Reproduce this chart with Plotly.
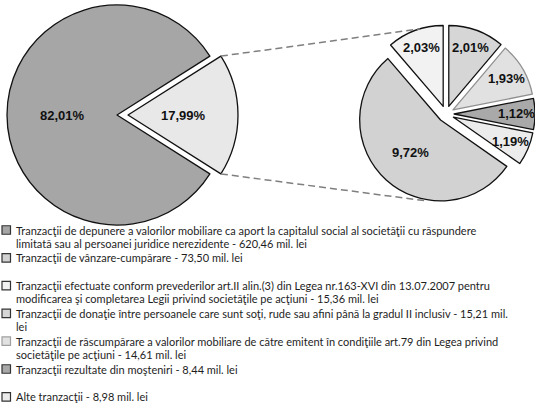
import math
import textwrap
import plotly.graph_objects as go

# ---------------- data ----------------
main_labels = ["Depunere ca aport la capitalul social", "Celelalte tranzacţii (grupate)"]
main_pct = [82.01, 17.99]

sub_labels = ["Vânzare-cumpărare", "Art.II alin.(3) Legea nr.163-XVI", "Donaţie",
              "Răscumpărare art.79", "Moşteniri", "Alte tranzacţii"]
sub_pct = [9.72, 2.03, 2.01, 1.93, 1.12, 1.19]

legend_names = [
    "Tranzacţii de depunere a valorilor mobiliare ca aport la capitalul social al societăţii cu răspundere "
    "limitată sau al persoanei juridice nerezidente",
    "Tranzacţii de vânzare-cumpărare",
    "Tranzacţii efectuate conform prevederilor art.II alin.(3) din Legea nr.163-XVI din 13.07.2007 pentru "
    "modificarea şi completarea Legii privind societăţile pe acţiuni",
    "Tranzacţii de donaţie între persoanele care sunt soţi, rude sau afini până la gradul II inclusiv",
    "Tranzacţii de răscumpărare a valorilor mobiliare de către emitent în condiţiile art.79 din Legea privind "
    "societăţile pe acţiuni",
    "Tranzacţii rezultate din moşteniri",
    "Alte tranzacţii",
]
legend_amounts = [620.46, 73.50, 15.36, 15.21, 14.61, 8.44, 8.98]

# ---------------- style ----------------
main_colors = ["#a6a6a6", "#e8e8e8"]
sub_colors = ["#d2d2d2", "#f2f2f2", "#d6d6d6", "#e1e1e1", "#a9a9a9", "#ececec"]
sub_line_colors = ["#111111", "#111111", "#111111", "#909090", "#111111", "#111111"]
legend_colors = [main_colors[0]] + sub_colors
legend_line_colors = ["#333333"] * 4 + ["#a0a0a0"] + ["#333333"] * 2

W, H = 535, 414
MAIN_C = (117.0, 115.0)
MAIN_R = 110.0
MAIN_PULL = 0.10
SUB_C = (446.0, 114.0)
SUB_HALF = 89.0
SUB_PULL = 0.10
SUB_R = SUB_HALF / (1 + SUB_PULL)
TRANSP = "rgba(0,0,0,0)"
LBL_FONT = dict(family="Liberation Sans, Arial", size=13, color="#111111", weight="bold")
LEG_FONT = dict(family="Lato", size=11, color="#1e1e1e")


def dom_x(cx, half):
    return [max(0.0, (cx - half) / W), min(1.0, (cx + half) / W)]


def dom_y(cy, half):
    return [max(0.0, 1 - (cy + half) / H), min(1.0, 1 - (cy - half) / H)]


def pt(c, r, ang_deg):
    a = math.radians(ang_deg)
    return (c[0] + r * math.sin(a), c[1] - r * math.cos(a))


def fmt(v):
    return f"{v:.2f}".replace(".", ",")


def mid_angles(vals, rot):
    tot = sum(vals)
    out, cum = [], 0.0
    for v in vals:
        out.append(rot + 360 * (cum + v / 2) / tot)
        cum += v
    return out


# main pie: small (grouped) slice centred at 3 o'clock
main_tot = sum(main_pct)
main_rot = 90 + 180 * main_pct[1] / main_tot
grp_span = 360 * main_pct[1] / main_tot
main_mids = mid_angles(main_pct, main_rot)
off = pt((0, 0), MAIN_PULL * MAIN_R, main_mids[1])
MAIN_C2 = (MAIN_C[0] + off[0], MAIN_C[1] + off[1])

# secondary pie: boundary between 2nd and 3rd slices at 12 o'clock
sub_tot = sum(sub_pct)
sub_rot = 360 - 360 * (sub_pct[0] + sub_pct[1]) / sub_tot
sub_mids = mid_angles(sub_pct, sub_rot)

fig = go.Figure()

common = dict(sort=False, direction="clockwise", textinfo="none",
              showlegend=False, hoverinfo="label+value")

# big slice (stays in place)
fig.add_trace(go.Pie(
    values=main_pct, labels=main_labels, rotation=main_rot,
    marker=dict(colors=[main_colors[0], TRANSP],
                line=dict(color=["#111111", TRANSP], width=[1.3, 0])),
    domain=dict(x=dom_x(MAIN_C[0], MAIN_R), y=dom_y(MAIN_C[1], MAIN_R)),
    **common))
# grouped slice (exploded)
fig.add_trace(go.Pie(
    values=main_pct, labels=main_labels, rotation=main_rot,
    marker=dict(colors=[TRANSP, main_colors[1]],
                line=dict(color=[TRANSP, "#111111"], width=[0, 1.3])),
    domain=dict(x=dom_x(MAIN_C2[0], MAIN_R), y=dom_y(MAIN_C2[1], MAIN_R)),
    **common))
# secondary pie
fig.add_trace(go.Pie(
    values=sub_pct, labels=sub_labels, rotation=sub_rot, pull=[SUB_PULL] * len(sub_pct),
    marker=dict(colors=sub_colors, line=dict(color=sub_line_colors, width=1.3)),
    domain=dict(x=dom_x(SUB_C[0], SUB_HALF), y=dom_y(SUB_C[1], SUB_HALF)),
    **common))

shapes = []
annotations = []

# data labels
for i, v in enumerate(main_pct):
    c = MAIN_C if i == 0 else MAIN_C2
    p = pt(c, 0.5 * MAIN_R, main_mids[i])
    annotations.append(dict(x=p[0] / W, y=1 - p[1] / H, xref="paper", yref="paper",
                            text=f"{fmt(v)}%", showarrow=False, font=LBL_FONT,
                            xanchor="center", yanchor="middle"))
for i, v in enumerate(sub_pct):
    c = pt(SUB_C, SUB_PULL * SUB_R, sub_mids[i])
    frac = 0.55 if v / sub_tot > 0.25 else 0.77
    p = pt(c, frac * SUB_R, sub_mids[i])
    annotations.append(dict(x=p[0] / W, y=1 - p[1] / H, xref="paper", yref="paper",
                            text=f"{fmt(v)}%", showarrow=False, font=LBL_FONT,
                            xanchor="center", yanchor="middle"))

# connector (series) lines
p_up = pt(MAIN_C2, MAIN_R, 90 - grp_span / 2)
p_dn = pt(MAIN_C2, MAIN_R, 90 + grp_span / 2)
q_up = pt(SUB_C, SUB_HALF, 343)
q_dn = pt(SUB_C, SUB_HALF, 192)
for a, b in [(p_up, q_up), (p_dn, q_dn)]:
    shapes.append(dict(type="line", xref="paper", yref="paper",
                       x0=a[0] / W, y0=1 - a[1] / H, x1=b[0] / W, y1=1 - b[1] / H,
                       line=dict(color="#7f7f7f", width=1.5, dash="7px,4px")))

# legend (manual)
LEG_Y0 = 230.0
LEG_STEP = 27.8
LINE_H = 13.2
SQ = 8.5
for i, (name, amt) in enumerate(zip(legend_names, legend_amounts)):
    y = LEG_Y0 + i * LEG_STEP
    shapes.append(dict(type="rect", xref="paper", yref="paper",
                       x0=2 / W, x1=(2 + SQ) / W,
                       y0=1 - (y + SQ / 2) / H, y1=1 - (y - SQ / 2) / H,
                       fillcolor=legend_colors[i],
                       line=dict(color=legend_line_colors[i], width=1.2)))
    full = f"{name} - {fmt(amt)} mil. lei"
    for k, line in enumerate(textwrap.wrap(full, 109)):
        yy = y + k * LINE_H
        annotations.append(dict(x=15 / W, y=1 - yy / H, xref="paper", yref="paper",
                                xanchor="left", yanchor="middle", align="left",
                                showarrow=False, text=line, borderpad=0,
                                font=LEG_FONT))

fig.update_layout(
    width=W, height=H,
    margin=dict(l=0, r=0, t=0, b=0),
    paper_bgcolor="white", plot_bgcolor="white",
    separators=", ",
    shapes=shapes, annotations=annotations,
    showlegend=False,
)

fig.write_html("out.html",
               config={"displayModeBar": False},
               post_script="document.body.style.margin='0';document.body.style.overflow='hidden';")
